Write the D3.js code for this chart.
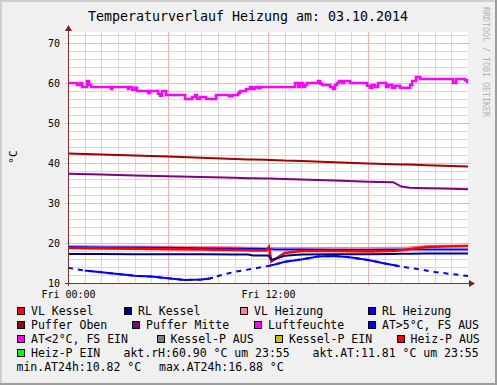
<!DOCTYPE html>
<html>
<head>
<meta charset="utf-8">
<script src="https://cdn.jsdelivr.net/npm/d3@7"></script>
<style>
  html, body { margin: 0; padding: 0; background: #f0f0f0; }
  svg text { font-family: "DejaVu Sans Mono", monospace; }
</style>
</head>
<body>
<div id="chart"></div>
<script>
const title = 'Temperaturverlauf Heizung am: 03.10.2014';
const unitLabel = '°C';
const watermark = 'RRDTOOL / TOBI OETIKER';

// hours of the day, shared by the smooth series
const hours = [0, 2, 4, 6, 8, 10, 10.8, 11.1, 11.9, 12.05, 12.2, 12.5, 13, 14, 16, 18, 19.5, 20, 20.5, 21.5, 22.5, 24];
const vlKessel   = [18.75, 18.65, 18.55, 18.45, 18.35, 18.25, 18.2, 18.15, 18.1, 19.0, 15.4, 16.2, 17.5, 18.0, 18.0, 17.9, 18.0, 18.2, 18.5, 19.0, 19.15, 19.25];
const rlKessel   = [17.25, 17.25, 17.2, 17.2, 17.2, 17.15, 17.1, 16.85, 16.85, 16.8, 15.8, 16.1, 16.8, 17.1, 17.2, 17.2, 17.25, 17.3, 17.3, 17.35, 17.4, 17.4];
const vlHeizung  = [19.3, 19.25, 19.2, 19.1, 19.05, 19.0, 18.9, 18.9, 18.8, 18.8, 18.8, 18.8, 18.8, 18.8, 18.8, 18.8, 18.85, 18.9, 19.0, 19.3, 19.4, 19.45];
const rlHeizung  = [19.0, 18.9, 18.85, 18.8, 18.7, 18.6, 18.55, 18.55, 18.5, 18.5, 18.45, 18.4, 18.4, 18.35, 18.3, 18.3, 18.35, 18.4, 18.4, 18.4, 18.4, 18.4];
const pufferOben = [42.4, 42.1, 41.85, 41.6, 41.3, 41.0, 40.9, 40.9, 40.8, 40.75, 40.75, 40.7, 40.6, 40.5, 40.2, 39.9, 39.7, 39.65, 39.6, 39.45, 39.3, 39.1];
const pufferMitte = [37.3, 37.1, 36.9, 36.7, 36.5, 36.3, 36.2, 36.2, 36.1, 36.1, 36.1, 36.05, 36.0, 35.9, 35.6, 35.3, 35.2, 34.1, 33.8, 33.7, 33.6, 33.45];

// humidity (stepped)
const humHours = [0, 0.54, 0.72, 0.84, 1.14, 1.26, 1.38, 2.58, 2.64, 3.6, 3.66, 3.84, 4.02, 4.14, 4.8, 4.92, 5.4, 5.52, 5.64, 5.88,
  7.02, 7.44, 7.62, 7.74, 7.92, 8.28, 8.88, 9.66, 9.84, 10.2, 10.32, 10.68, 10.92, 11.04, 11.2, 11.4, 11.52,
  13.62, 13.8, 13.92, 14.1, 14.22, 14.34, 15.0, 15.12, 15.24, 15.72, 15.9, 16.02, 16.14, 16.26, 16.44, 16.56, 16.8, 16.92,
  17.94, 18.12, 18.24, 18.42, 18.6, 19.08, 19.2, 19.44, 19.62, 19.92, 20.52, 20.64, 20.88, 21.12, 23.1, 23.28, 23.82, 23.94, 24];
const humValues = [60, 59.5, 60, 59, 60.5, 59.5, 59, 58.5, 59, 58.5, 59, 58.3, 58.8, 58, 57.5, 58, 57.3, 56.8, 58, 57,
  56, 56.5, 57, 56, 56.5, 56, 57, 56.7, 57, 57.5, 58, 58.5, 59, 58.5, 59, 58.7, 59,
  60, 59, 60, 59, 59.5, 60, 60.5, 59.8, 59.5, 59, 58.5, 59.5, 60, 60.5, 60, 60.5, 60.5, 60,
  59.3, 58.8, 59.5, 59, 60, 59, 59.5, 58.8, 59.3, 58.8, 59.5, 60.5, 61.5, 61, 60, 61, 60.7, 60.3, 60.3];

// outside temperature
const atHours  = [0, 1, 2, 3, 4, 5, 6, 7, 8, 8.5, 9, 10, 11, 12, 12.4, 13, 14, 15, 16, 17, 18, 19, 20, 21, 22, 23, 24];
const atValues = [13.8, 13.1, 12.7, 12.25, 11.8, 11.6, 11.2, 10.75, 10.85, 11.1, 11.75, 12.8, 13.5, 14.25, 14.6, 15.3, 15.9, 16.6, 16.75, 16.4, 15.75, 14.9, 14.1, 13.5, 12.75, 12.25, 11.75];
const atSolid  = [[1, 8.7], [12.1, 19.9]];

const yMajor = [10, 20, 30, 40, 50, 60, 70];
const xLabelHours = [0, 12];

const legendNames = ['VL Kessel', 'RL Kessel', 'VL Heizung', 'RL Heizung',
  'Puffer Oben', 'Puffer Mitte', 'Luftfeuchte', 'AT>5°C, FS AUS',
  'AT<2°C, FS EIN', 'Kessel-P AUS', 'Kessel-P EIN', 'Heiz-P AUS', 'Heiz-P EIN'];
const legendColors = ['#ff0000', '#000080', '#ff8098', '#0000ff',
  '#a00000', '#800080', '#ff00ff', '#0000ff',
  '#ff00ff', '#808080', '#c8c000', '#ff0000', '#00ff00'];
const infoTexts = ['akt.rH:60.90 °C um 23:55', 'akt.AT:11.81 °C um 23:55',
  'min.AT24h:10.82 °C', 'max.AT24h:16.88 °C'];

// layout
const W = 497, H = 385;
const plot = { left: 68, right: 468, top: 32, bottom: 283 };
const legendBoxX = [17, 124, 240, 368, 17, 132, 254, 368, 17, 156.5, 275, 396.5, 17];
const legendRowY = [307, 321, 335, 349];
const infoPos = [[123.5, 357], [312.5, 357], [16.5, 371], [159, 371]];

const day0 = new Date(2014, 9, 3);
const toDate = (h) => new Date(+day0 + h * 3600e3);

const x = d3.scaleTime()
  .domain([day0, toDate(24)])
  .range([plot.left, plot.right]);

const y = d3.scaleLinear()
  .domain([10, 72.75])
  .range([plot.bottom, plot.top]);

const svg = d3.select('#chart')
  .append('svg')
  .attr('width', W)
  .attr('height', H)
  .style('display', 'block');

// background + shaded frame
svg.append('rect').attr('width', W).attr('height', H).attr('fill', '#f0f0f0');
svg.append('path').attr('d', `M0,0H${W}V2H2V${H}H0Z`).attr('fill', '#cfcfcf');
svg.append('path').attr('d', `M${W},${H}H0V${H - 2}H${W - 2}V0H${W}Z`).attr('fill', '#9e9e9e');

svg.append('rect')
  .attr('x', plot.left).attr('y', plot.top)
  .attr('width', plot.right - plot.left)
  .attr('height', plot.bottom - plot.top)
  .attr('fill', '#ffffff');

// grid
const grid = svg.append('g').attr('shape-rendering', 'crispEdges');
const minorY = d3.range(12, 73, 2).filter(v => v % 10 !== 0);
const minorX = x.ticks(d3.timeHour.every(1)).filter(d => d.getHours() % 6 !== 0);
const majorX = x.ticks(d3.timeHour.every(6)).filter(d => +d < +toDate(24));

grid.selectAll('.hmin').data(minorY).enter().append('line')
  .attr('x1', plot.left).attr('x2', plot.right)
  .attr('y1', d => Math.round(y(d)) + 0.5).attr('y2', d => Math.round(y(d)) + 0.5)
  .attr('stroke', '#d8d8d8');
grid.selectAll('.vmin').data(minorX).enter().append('line')
  .attr('x1', d => Math.round(x(d)) + 0.5).attr('x2', d => Math.round(x(d)) + 0.5)
  .attr('y1', plot.top).attr('y2', plot.bottom)
  .attr('stroke', '#d8d8d8');
grid.selectAll('.hmaj').data(yMajor).enter().append('line')
  .attr('x1', plot.left - 3).attr('x2', plot.right + 2)
  .attr('y1', d => Math.round(y(d)) + 0.5).attr('y2', d => Math.round(y(d)) + 0.5)
  .attr('stroke', '#f4b4b4');
grid.selectAll('.vmaj').data(majorX).enter().append('line')
  .attr('x1', d => Math.round(x(d)) + 0.5).attr('x2', d => Math.round(x(d)) + 0.5)
  .attr('y1', plot.top).attr('y2', plot.bottom + 3)
  .attr('stroke', '#f4b4b4');

// series
const lineOf = (xs) => d3.line()
  .x((d, i) => x(toDate(xs[i])))
  .y(d => y(d));

const smooth = [
  [vlHeizung, legendColors[2], 1.5],
  [rlHeizung, legendColors[3], 2],
  [vlKessel, legendColors[0], 2.5],
  [rlKessel, legendColors[1], 2],
  [pufferOben, legendColors[4], 2],
  [pufferMitte, legendColors[5], 2]
];
smooth.forEach(([vals, col, w]) => {
  svg.append('path')
    .datum(vals)
    .attr('d', lineOf(hours))
    .attr('fill', 'none')
    .attr('stroke', col)
    .attr('stroke-width', w);
});

svg.append('path')
  .datum(humValues)
  .attr('d', lineOf(humHours).curve(d3.curveStepAfter))
  .attr('fill', 'none')
  .attr('stroke', legendColors[6])
  .attr('stroke-width', 2.5);

// outside temperature: dashed where readings are sparse, solid elsewhere
const atLine = lineOf(atHours);
svg.append('path')
  .datum(atValues)
  .attr('d', atLine)
  .attr('fill', 'none')
  .attr('stroke', legendColors[7])
  .attr('stroke-width', 2)
  .attr('stroke-dasharray', '5,5');

const defs = svg.append('defs');
atSolid.forEach((r, i) => {
  defs.append('clipPath').attr('id', 'atclip' + i)
    .append('rect')
    .attr('x', x(toDate(r[0]))).attr('y', plot.top)
    .attr('width', x(toDate(r[1])) - x(toDate(r[0])))
    .attr('height', plot.bottom - plot.top);
  svg.append('path')
    .datum(atValues)
    .attr('d', atLine)
    .attr('fill', 'none')
    .attr('stroke', legendColors[7])
    .attr('stroke-width', 2)
    .attr('clip-path', 'url(#atclip' + i + ')');
});

// axes with arrows
const axisColor = '#7f2f2f';
const ax = svg.append('g').attr('shape-rendering', 'crispEdges');
ax.append('line')
  .attr('x1', plot.left + 0.5).attr('x2', plot.left + 0.5)
  .attr('y1', plot.bottom + 3).attr('y2', plot.top - 4)
  .attr('stroke', axisColor);
ax.append('line')
  .attr('x1', plot.left - 3).attr('x2', plot.right + 3)
  .attr('y1', plot.bottom + 0.5).attr('y2', plot.bottom + 0.5)
  .attr('stroke', axisColor);
svg.append('path')
  .attr('d', `M${plot.left + 0.5},${plot.top - 7}l3.5,6h-7Z`)
  .attr('fill', '#7f1f1f');
svg.append('path')
  .attr('d', `M${plot.right + 7},${plot.bottom + 0.5}l-6,-3.5v7Z`)
  .attr('fill', '#7f1f1f');

// tick labels
svg.selectAll('.ylab').data(yMajor).enter().append('text')
  .attr('x', 60)
  .attr('y', d => y(d) + 3.5)
  .attr('text-anchor', 'end')
  .attr('font-size', 10)
  .attr('fill', '#000')
  .text(d => d);

const fmt = d3.timeFormat('%a %H:%M');
svg.selectAll('.xlab').data(xLabelHours).enter().append('text')
  .attr('x', d => x(toDate(d)) + 0.5)
  .attr('y', 298)
  .attr('text-anchor', 'middle')
  .attr('font-size', 10)
  .attr('fill', '#000')
  .text(d => fmt(toDate(d)));

// title, unit, watermark
svg.append('text')
  .attr('x', 248).attr('y', 21)
  .attr('text-anchor', 'middle')
  .attr('font-size', 13.3)
  .attr('fill', '#000')
  .text(title);

svg.append('text')
  .attr('transform', 'translate(17,157) rotate(-90)')
  .attr('text-anchor', 'middle')
  .attr('font-size', 11)
  .attr('fill', '#000')
  .text(unitLabel);

svg.append('text')
  .attr('transform', 'translate(483,62) rotate(90)')
  .attr('text-anchor', 'middle')
  .attr('font-size', 8.3)
  .attr('fill', '#b4b4b4')
  .text(watermark);

// legend
const leg = svg.append('g');
legendNames.forEach((name, i) => {
  const bx = legendBoxX[i];
  const by = legendRowY[Math.floor(i / 4)];
  leg.append('rect')
    .attr('x', bx + 0.5).attr('y', by + 0.5)
    .attr('width', 7).attr('height', 7)
    .attr('fill', legendColors[i])
    .attr('stroke', '#000')
    .attr('stroke-width', 1)
    .attr('shape-rendering', 'crispEdges');
  leg.append('text')
    .attr('x', bx + 14).attr('y', by + 8)
    .attr('font-size', 11.5)
    .attr('fill', '#000')
    .text(name);
});
infoTexts.forEach((t, i) => {
  leg.append('text')
    .attr('x', infoPos[i][0]).attr('y', infoPos[i][1])
    .attr('font-size', 11.5)
    .attr('fill', '#000')
    .text(t);
});
</script>
</body>
</html>
